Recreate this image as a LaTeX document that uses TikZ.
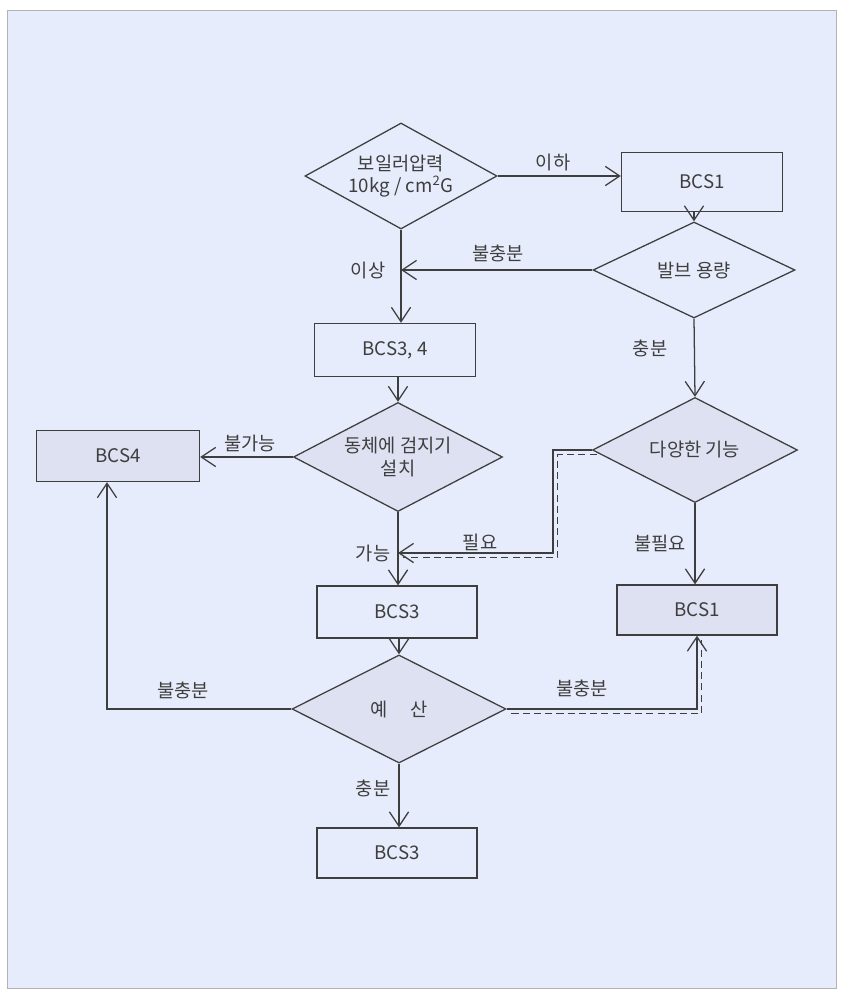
\documentclass[tikz,border=0pt]{standalone}
\usepackage{fontspec}
\setmainfont{Noto Sans CJK KR}
\usetikzlibrary{shapes.geometric,arrows.meta}
\definecolor{paper}{HTML}{E7ECFC}
\definecolor{shade}{HTML}{DDE1F2}
\definecolor{ink}{HTML}{3E3E3E}
\tikzset{
  box/.style={draw=ink,line width=0.9pt,fill=paper,inner sep=0pt},
  ask/.style={draw=ink,line width=0.9pt,fill=paper,shape=diamond,aspect=2,inner sep=0pt,align=center},
  dark/.style={fill=shade},
  go/.style={draw=ink,line width=0.9pt,-{Straight Barb[length=3.6mm,width=4.8mm]}},
  alt/.style={draw=ink,line width=0.9pt,dash pattern=on 5pt off 3pt,transform canvas={xshift=1.2mm,yshift=-1.2mm}}
}
\begin{document}
\begin{tikzpicture}[x=0.025cm,y=-0.025cm,font=\fontsize{13.3}{16}\selectfont,text=ink]
\useasboundingbox (0,0) rectangle (841,991);
\draw[gray!60,fill=paper] (7,10) rectangle (836,988);
\node[ask,minimum width=4.8cm,minimum height=2.65cm] (d1) at (401,176) {보일러압력\\10kg / cm\textsuperscript{2}G};
\node[box,minimum width=4.025cm,minimum height=1.475cm] (bcsa) at (702,182) {BCS1};
\node[ask,minimum width=5.05cm,minimum height=2.4cm] (d2) at (694,270) {발브 용량};
\node[box,minimum width=4.025cm,minimum height=1.325cm] (bcsb) at (395,350) {BCS3, 4};
\node[ask,dark,minimum width=5.225cm,minimum height=2.725cm] (d3) at (398,457) {동체에 검지기\\설치};
\node[box,dark,minimum width=4.075cm,minimum height=1.275cm] (bcsc) at (118,456) {BCS4};
\node[ask,dark,minimum width=5.125cm,minimum height=2.625cm] (d4) at (695,450) {다양한 기능};
\node[box,minimum width=4cm,minimum height=1.3cm] (bcsd) at (397,612) {BCS3};
\node[box,dark,minimum width=4cm,minimum height=1.25cm] (bcse) at (697,610) {BCS1};
\node[ask,dark,minimum width=5.35cm,minimum height=2.7cm] (d5) at (399,709) {예\hspace{1.2em}산};
\node[box,minimum width=4cm,minimum height=1.25cm] (bcsf) at (397,853) {BCS3};
\coordinate (pa) at (553,553);
\coordinate (pb) at (107,709);
\draw[go] (d1.east) -- (d1.east -| bcsa.west);
\draw[go] (d2.north |- bcsa.south) -- (d2.north);
\draw[go] (d2.west) -- (d2.west -| d1.south);
\draw[go] (d1.south) -- (d1.south |- bcsb.north);
\draw[go] (d3.north |- bcsb.south) -- (d3.north);
\draw[go] (d3.west) -- (d3.west -| bcsc.east);
\draw[go] (d3.south) -- (d3.south |- bcsd.north);
\draw[go] (d2.south) -- (d4.north);
\draw[go] (d4.south) -- (d4.south |- bcse.north);
\draw[go] (d4.west) -| (pa) -- (pa -| d3.south);
\draw[alt] (d4.west) -| (pa) -- (pa -| d3.south);
\draw[go] (d5.north |- bcsd.south) -- (d5.north);
\draw[go] (d5.west) -- (pb) -- (pb |- bcsc.south);
\draw[go] (d5.east) -| (bcse.south);
\draw[alt] (d5.east) -| (bcse.south);
\draw[go] (d5.south) -- (d5.south |- bcsf.north);
\node (l1) at (553,163) {이하};
\node (l2) at (498,253) {불충분};
\node (l3) at (368,271) {이상};
\node (l4) at (650,348) {충분};
\node (l5) at (250,443) {불가능};
\node (l6) at (373,553) {가능};
\node (l7) at (480,542) {필요};
\node (l8) at (660,543) {불필요};
\node (l9) at (183,690) {불충분};
\node (l10) at (582,688) {불충분};
\node (l11) at (373,788) {충분};
\end{tikzpicture}
\end{document}
